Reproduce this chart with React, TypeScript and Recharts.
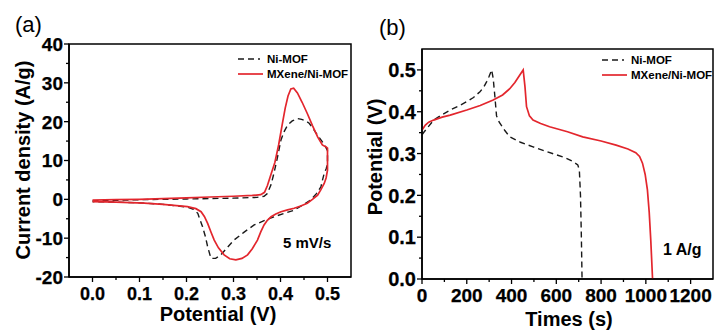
import React from "react";
import { LineChart, Line, XAxis, YAxis, ReferenceArea } from "recharts";

// CV at 5 mV/s: potential (V) and current density (A/g), sweep order
const cvNiV = [0, 0.1, 0.2, 0.3, 0.35, 0.365, 0.372, 0.38, 0.386, 0.393, 0.401, 0.408, 0.415, 0.425, 0.436, 0.445, 0.454, 0.461, 0.47, 0.479, 0.488, 0.496, 0.5, 0.5, 0.497, 0.493, 0.489, 0.486, 0.476, 0.464, 0.447, 0.429, 0.408, 0.386, 0.365, 0.344, 0.322, 0.301, 0.287, 0.273, 0.262, 0.252, 0.245, 0.24, 0.234, 0.228, 0.224, 0.215, 0.202, 0.15, 0.1, 0.05, 0];
const cvNiI = [-0.4, -0.1, 0.1, 0.3, 0.5, 0.8, 1.5, 3.8, 6.7, 10.5, 15.3, 17.5, 19.1, 20.2, 20.8, 20.6, 20.2, 19.6, 18.1, 16.5, 15, 13.5, 12.5, 9, 7.8, 6.7, 4.8, 3.2, 1.4, -0.2, -1.5, -2.8, -3.6, -4.5, -5.5, -6.6, -8.5, -10.5, -12.4, -14.3, -15.2, -15.2, -12.2, -9.5, -7, -5, -3.6, -2.6, -2.0, -1.3, -0.9, -0.7, -0.6];

const cvMxV = [0, 0.05, 0.1, 0.15, 0.2, 0.25, 0.3, 0.34, 0.358, 0.366, 0.372, 0.38, 0.388, 0.396, 0.404, 0.41, 0.416, 0.422, 0.428, 0.436, 0.446, 0.457, 0.468, 0.479, 0.489, 0.497, 0.5, 0.5, 0.5, 0.497, 0.493, 0.486, 0.479, 0.468, 0.457, 0.443, 0.429, 0.415, 0.401, 0.39, 0.38, 0.372, 0.365, 0.358, 0.351, 0.34, 0.33, 0.318, 0.305, 0.292, 0.28, 0.268, 0.259, 0.252, 0.245, 0.238, 0.231, 0.22, 0.202, 0.15, 0.11, 0.05, 0];
const cvMxI = [-0.2, -0.1, 0, 0.2, 0.4, 0.6, 0.8, 1.0, 1.2, 1.8, 3.5, 6.5, 9.5, 14, 19.5, 23.5, 26.6, 28.4, 28.6, 27.4, 25, 22.1, 19, 16.1, 14, 13.5, 13.2, 10, 7.5, 5.5, 4.1, 2.5, 1.1, 0, -1, -1.7, -2.3, -2.7, -3.2, -3.8, -4.5, -5.4, -6.6, -8.4, -10.5, -12.7, -14.3, -15.2, -15.6, -15.3, -14.3, -12.5, -10.5, -8.4, -6.2, -4.4, -3.2, -2.4, -1.9, -1.3, -1.0, -0.7, -0.6];

// GCD at 1 A/g: time (s) and potential (V)
const gcdNiT = [0, 10, 25, 52, 90, 126, 165, 200, 230, 259, 275, 289, 300, 311, 318, 325, 333, 345, 370, 392, 440, 496, 550, 600, 640, 674, 696, 703, 708, 712, 715];
const gcdNiV = [0.345, 0.352, 0.362, 0.38, 0.393, 0.404, 0.414, 0.424, 0.434, 0.448, 0.458, 0.472, 0.485, 0.5, 0.48, 0.44, 0.39, 0.375, 0.355, 0.34, 0.327, 0.316, 0.306, 0.297, 0.29, 0.281, 0.273, 0.26, 0.2, 0.1, 0];

const gcdMxT = [0, 15, 30, 52, 90, 126, 200, 260, 318, 360, 392, 415, 437, 452, 460, 467, 480, 496, 530, 570, 650, 718, 800, 867, 920, 955, 972, 985, 997, 1007, 1015, 1022, 1030];
const gcdMxV = [0.356, 0.368, 0.375, 0.38, 0.387, 0.392, 0.404, 0.415, 0.428, 0.44, 0.455, 0.47, 0.488, 0.5, 0.46, 0.412, 0.39, 0.38, 0.372, 0.364, 0.352, 0.34, 0.33, 0.32, 0.311, 0.302, 0.293, 0.277, 0.25, 0.213, 0.16, 0.093, 0];

const cvMajorX = [0, 0.1, 0.2, 0.3, 0.4, 0.5];
const cvMinorX = [0.05, 0.15, 0.25, 0.35, 0.45];
const cvMajorY = [-20, -10, 0, 10, 20, 30, 40];
const cvMinorY = [-15, -5, 5, 15, 25, 35];
const gcdMajorX = [0, 200, 400, 600, 800, 1000, 1200];
const gcdMinorX = [100, 300, 500, 700, 900, 1100];
const gcdMajorY = [0, 0.1, 0.2, 0.3, 0.4, 0.5];
const gcdMinorY = [0.05, 0.15, 0.25, 0.35, 0.45];

const pts = (xs: number[], ys: number[]) => xs.map((x, i) => ({ x, y: ys[i] }));

const FONT = "Liberation Sans";
const RED = "#e3262d";
const BLACK = "#1a1a1a";

// tick labels live in an overlay so they share the titles' bold font
const TickLabel = ({ x, y, size, anchor, children }: any) => (
  <text x={x} y={y} textAnchor={anchor} fontFamily={FONT} fontWeight="bold" fontSize={size} fill="#000" stroke="#000" strokeWidth={0.25}>
    {children}
  </text>
);

const makeXTick = (majors: number[], fmt: (v: number) => string, size: number) => (props: any) => {
  const { x, y, payload } = props;
  const major = majors.some((m) => Math.abs(m - payload.value) < 1e-9);
  return (
    <g>
      <line x1={x} x2={x} y1={y} y2={y + (major ? 5 : 3)} stroke="#000" strokeWidth={1.3} />
      {major && (
        <TickLabel x={x} y={y + 23} size={size} anchor="middle">
          {fmt(payload.value)}
        </TickLabel>
      )}
    </g>
  );
};

const makeYTick = (majors: number[], fmt: (v: number) => string, size: number) => (props: any) => {
  const { x, y, payload } = props;
  const major = majors.some((m) => Math.abs(m - payload.value) < 1e-9);
  return (
    <g>
      <line x1={x} x2={x - (major ? 5 : 3)} y1={y} y2={y} stroke="#000" strokeWidth={1.3} />
      {major && (
        <TickLabel x={x - 6} y={y + size * 0.36} size={size} anchor="end">
          {fmt(payload.value)}
        </TickLabel>
      )}
    </g>
  );
};

const CvChart = () => (
  <LineChart width={360} height={331} margin={{ top: 44, right: 9, bottom: 0, left: 0 }}>
    <XAxis
      dataKey="x"
      type="number"
      domain={[-0.05, 0.55]}
      ticks={[...cvMajorX, ...cvMinorX]}
      interval={0}
      height={54}
      tickSize={0}
      tickMargin={0}
      tickLine={false}
      axisLine={{ stroke: "#000", strokeWidth: 1.5 }}
      tick={makeXTick(cvMajorX, (v) => v.toFixed(1), 18)}
      allowDataOverflow
    />
    <YAxis
      type="number"
      domain={[-20, 40]}
      ticks={[...cvMajorY, ...cvMinorY]}
      interval={0}
      width={69}
      tickSize={0}
      tickMargin={0}
      tickLine={false}
      axisLine={{ stroke: "#000", strokeWidth: 1.5 }}
      tick={makeYTick(cvMajorY, (v) => String(v), 19)}
      allowDataOverflow
    />
    <ReferenceArea x1={-0.05} x2={0.55} y1={-20} y2={40} fill="none" stroke="#000" strokeWidth={1.5} />
    <Line data={pts(cvNiV, cvNiI)} dataKey="y" type="linear" stroke={BLACK} strokeWidth={1.4} strokeDasharray="6 4" dot={false} isAnimationActive={false} />
    <Line data={pts(cvMxV, cvMxI)} dataKey="y" type="linear" stroke={RED} strokeWidth={1.7} dot={false} isAnimationActive={false} />
  </LineChart>
);

const GcdChart = () => (
  <LineChart width={360} height={331} margin={{ top: 49, right: 2, bottom: 0, left: 0 }}>
    <XAxis
      dataKey="x"
      type="number"
      domain={[0, 1300]}
      ticks={[...gcdMajorX, ...gcdMinorX]}
      interval={0}
      height={52}
      tickSize={0}
      tickMargin={0}
      tickLine={false}
      axisLine={{ stroke: "#000", strokeWidth: 1.5 }}
      tick={makeXTick(gcdMajorX, (v) => String(v), 19)}
      allowDataOverflow
    />
    <YAxis
      type="number"
      domain={[0, 0.55]}
      ticks={[...gcdMajorY, ...gcdMinorY]}
      interval={0}
      width={67}
      tickSize={0}
      tickMargin={0}
      tickLine={false}
      axisLine={{ stroke: "#000", strokeWidth: 1.5 }}
      tick={makeYTick(gcdMajorY, (v) => v.toFixed(1), 20)}
      allowDataOverflow
    />
    <ReferenceArea x1={0} x2={1300} y1={0} y2={0.55} fill="none" stroke="#000" strokeWidth={1.5} />
    <Line data={pts(gcdNiT, gcdNiV)} dataKey="y" type="linear" stroke={BLACK} strokeWidth={1.4} strokeDasharray="6 4" dot={false} isAnimationActive={false} />
    <Line data={pts(gcdMxT, gcdMxV)} dataKey="y" type="linear" stroke={RED} strokeWidth={1.7} dot={false} isAnimationActive={false} />
  </LineChart>
);

const Legend = ({ x, y }: { x: number; y: number }) => (
  <g fontFamily={FONT} fontWeight="bold" fontSize={11.5} fill="#000">
    <line x1={x} x2={x + 22} y1={y} y2={y} stroke={BLACK} strokeWidth={1.4} strokeDasharray="6 4" />
    <text x={x + 29} y={y + 4}>Ni-MOF</text>
    <line x1={x} x2={x + 25} y1={y + 15} y2={y + 15} stroke={RED} strokeWidth={1.7} />
    <text x={x + 29} y={y + 19}>MXene/Ni-MOF</text>
  </g>
);

export default function App() {
  return (
    <div style={{ position: "relative", width: 715, height: 331, background: "#fff", overflow: "hidden" }}>
      <style>{"body{margin:0}"}</style>
      <div style={{ position: "absolute", left: 0, top: 0 }}>
        <CvChart />
      </div>
      <div style={{ position: "absolute", left: 355, top: 0 }}>
        <GcdChart />
      </div>
      <svg width={715} height={331} style={{ position: "absolute", left: 0, top: 0, pointerEvents: "none" }}>
        <text x={15} y={32} fontFamily={FONT} fontSize={22} fill="#000">(a)</text>
        <text x={379} y={35} fontFamily={FONT} fontSize={22} fill="#000">(b)</text>
        <text x={23} y={160} transform="rotate(-90 23 160)" dy="0.36em" textAnchor="middle" fontFamily={FONT} fontWeight="bold" fontSize={20} fill="#000">
          Current density (A/g)
        </text>
        <text x={218} y={321} textAnchor="middle" fontFamily={FONT} fontWeight="bold" fontSize={20} fill="#000">
          Potential (V)
        </text>
        <text x={375} y={157} transform="rotate(-90 375 157)" dy="0.36em" textAnchor="middle" fontFamily={FONT} fontWeight="bold" fontSize={20} fill="#000">
          Potential (V)
        </text>
        <text x={569} y={326} textAnchor="middle" fontFamily={FONT} fontWeight="bold" fontSize={20} fill="#000">
          Times (s)
        </text>
        <text x={283} y={248} fontFamily={FONT} fontWeight="bold" fontSize={15} fill="#000">5 mV/s</text>
        <text x={663} y={255} fontFamily={FONT} fontWeight="bold" fontSize={16} fill="#000">1 A/g</text>
        <Legend x={238} y={59} />
        <Legend x={602} y={60} />
      </svg>
    </div>
  );
}
